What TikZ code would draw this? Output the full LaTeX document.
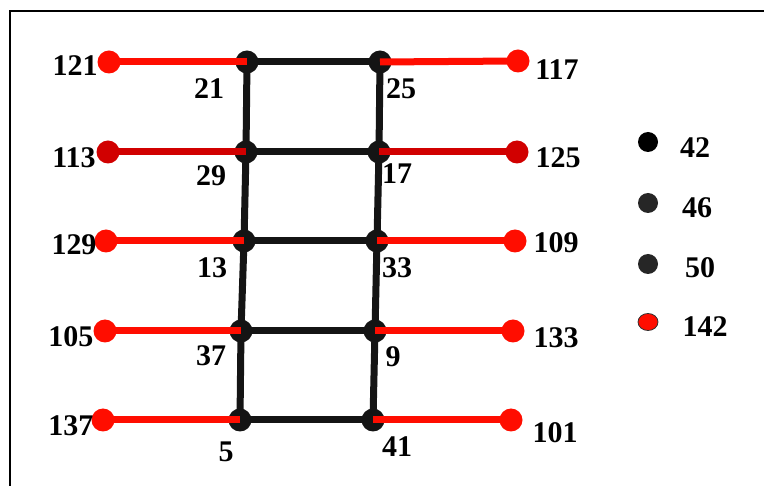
\documentclass[tikz,border=0pt]{standalone}
\usepackage{fontspec}
\setmainfont{Liberation Serif}
\usetikzlibrary{positioning, shapes.geometric}

\begin{document}
\begin{tikzpicture}[x=1pt, y=-1pt,
      bus/.style={circle, fill=black!92, minimum size=23pt, inner sep=0pt},
      load/.style={circle, fill=red!90!orange, minimum size=23pt, inner sep=0pt},
      dload/.style={load, fill=red!82!black},
      num/.style={font=\fontsize{30}{32}\selectfont\bfseries, inner sep=0pt},
      tie/.style={draw, line width=7pt, black!92},
      feed/.style={draw, line width=7pt, red!90!orange},
      dfeed/.style={feed, red!82!black},
      key/.style={circle, minimum size=20pt, inner sep=0pt}
    ]
    \useasboundingbox (0,0) rectangle (764,486);
    % === frame ===
    \draw[line width=1.5pt] (764,11) -- (10,11) -- (10,486);
    % === ladder: buses ===
    \node[bus] (b21) at (247, 62)  {};
    \node[bus] (b29) at (246, 152) {};
    \node[bus] (b13) at (244, 241) {};
    \node[bus] (b37) at (241, 331) {};
    \node[bus] (b5)  at (240, 420) {};
    \node[bus] (b25) at (380, 62)  {};
    \node[bus] (b17) at (379, 152) {};
    \node[bus] (b33) at (377, 241) {};
    \node[bus] (b9)  at (375, 331) {};
    \node[bus] (b41) at (373, 420) {};
    % === load ends ===
    \node[load]  (l121) at (109, 62)  {};
    \node[dload] (l113) at (108, 152) {};
    \node[load]  (l129) at (106, 241) {};
    \node[load]  (l105) at (105, 331) {};
    \node[load]  (l137) at (103, 420) {};
    \node[load]  (l117) at (518, 61)  {};
    \node[dload] (l125) at (517, 152) {};
    \node[load]  (l109) at (515, 241) {};
    \node[load]  (l133) at (513, 331) {};
    \node[load]  (l101) at (511, 420) {};
    % ladder lines
    \draw[tie] (b21.center) -- (b29.center) -- (b13.center) -- (b37.center) -- (b5.center);
    \draw[tie] (b25.center) -- (b17.center) -- (b33.center) -- (b9.center) -- (b41.center);
    \draw[tie] (b21.center) -- (b25.center);
    \draw[tie] (b29.center) -- (b17.center);
    \draw[tie] (b13.center) -- (b33.center);
    \draw[tie] (b37.center) -- (b9.center);
    \draw[tie] (b5.center) -- (b41.center);
    % feeders
    \draw[feed]  (b21.center) -- (l121.center);
    \draw[dfeed] (b29.center) -- (l113.center);
    \draw[feed]  (b13.center) -- (l129.center);
    \draw[feed]  (b37.center) -- (l105.center);
    \draw[feed]  (b5.center)  -- (l137.center);
    \draw[feed]  (b25.center) -- (l117.center);
    \draw[dfeed] (b17.center) -- (l125.center);
    \draw[feed]  (b33.center) -- (l109.center);
    \draw[feed]  (b9.center)  -- (l133.center);
    \draw[feed]  (b41.center) -- (l101.center);
    % === labels ===
    \node[num] (t121) at (75, 66)  {121};
    \node[num] (t113) at (74, 158) {113};
    \node[num] (t129) at (74, 245) {129};
    \node[num] (t105) at (71, 337) {105};
    \node[num] (t137) at (71, 426) {137};
    \node[num] (t117) at (557, 70)  {117};
    \node[num] (t125) at (558, 158) {125};
    \node[num] (t109) at (556, 243) {109};
    \node[num] (t133) at (556, 338) {133};
    \node[num] (t101) at (555, 433) {101};
    \node[num] (t21) at (209, 89)  {21};
    \node[num] (t29) at (211, 176) {29};
    \node[num] (t13) at (212, 268) {13};
    \node[num] (t37) at (211, 356) {37};
    \node[num] (t5)  at (226, 452) {5};
    \node[num] (t25) at (401, 89)  {25};
    \node[num] (t17) at (397, 174) {17};
    \node[num] (t33) at (397, 268) {33};
    \node[num] (t9)  at (393, 357) {9};
    \node[num] (t41) at (397, 447) {41};
    % === legend ===
    \node[key, fill=black]   (k42)  at (648, 142) {};
    \node[key, fill=black!85] (k46)  at (648, 203) {};
    \node[key, fill=black!85] (k50)  at (648, 264) {};
    \node[ellipse, fill=red!90!orange, draw=black!80, line width=0.8pt,
      minimum width=20pt, minimum height=17pt, inner sep=0pt] (k142) at (648, 322) {};
    \node[num] (t42)  at (695, 148) {42};
    \node[num] (t46)  at (697, 208) {46};
    \node[num] (t50)  at (700, 268) {50};
    \node[num] (t142) at (705, 327) {142};
  \end{tikzpicture}
\end{document}
